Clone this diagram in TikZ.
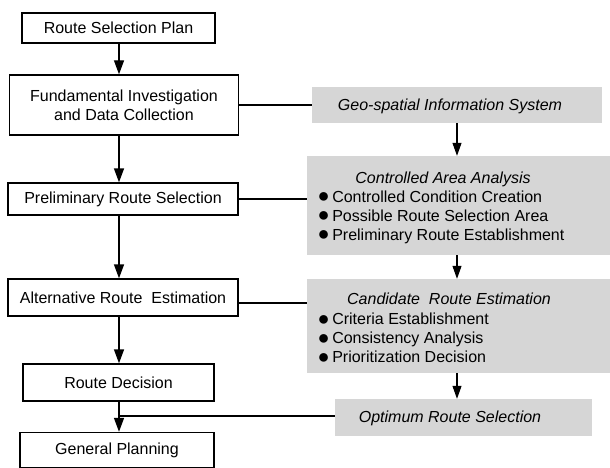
\documentclass[tikz,border=0pt]{standalone}
\usepackage{fontspec}
\setmainfont{Liberation Sans}
\usetikzlibrary{arrows.meta}
\newcommand{\blt}{\raisebox{-0.5pt}{\scalebox{1.25}{●}}\,}
\begin{document}
\begin{tikzpicture}[x=1pt,y=-1pt,
  txt/.style={font=\fontsize{16}{19}\selectfont},
  ittxt/.style={font=\fontsize{16}{19}\selectfont\itshape},
  stepbox/.style={txt,draw,line width=1.4pt,inner sep=0pt,align=center},
  panel/.style={fill=black!16,inner sep=0pt},
  link/.style={line width=1.4pt},
  arr/.style={line width=1.4pt,-{Triangle[length=14pt,width=10pt]}},
  thinarr/.style={line width=1.1pt,-{Triangle[length=13pt,width=9pt]}}]
\useasboundingbox (0,0) rectangle (610,468);

% main process column
\coordinate (spine) at (119,0);
\node[stepbox,minimum width=193pt,minimum height=30pt] (plan) at (118.5,28) {Route Selection Plan};
\node[stepbox,minimum width=229pt,minimum height=60pt] (survey) at (124,105) {Fundamental Investigation\\and Data Collection};
\node[stepbox,minimum width=230pt,minimum height=32pt] (prelim) at (123,199) {Preliminary Route Selection};
\node[stepbox,minimum width=230pt,minimum height=37pt] (altern) at (123,297.5) {Alternative Route\ \ Estimation};
\node[stepbox,minimum width=191pt,minimum height=37pt] (decide) at (118.5,382.5) {Route Decision};
\node[stepbox,minimum width=194pt,minimum height=35pt] (general) at (117,450) {General Planning};

% supporting analysis column
\node[panel,minimum width=290pt,minimum height=36pt] (gis) at (457,105) {};
\node[ittxt] (gistitle) at (450,106) {Geo-spatial Information System};

\node[panel,minimum width=303pt,minimum height=99pt] (area) at (458.5,205.5) {};
\node[ittxt] (areatitle) at (443,179) {Controlled Area Analysis};
\node[txt,anchor=west,align=left] (arealist) at (314,217)
  {\blt Controlled Condition Creation\\\blt Possible Route Selection Area\\\blt Preliminary Route Establishment};

\node[panel,minimum width=303pt,minimum height=94pt] (cand) at (458.5,326) {};
\node[ittxt] (candtitle) at (449,299) {Candidate\ \ Route Estimation};
\node[txt,anchor=west,align=left] (candlist) at (314,338)
  {\blt Criteria Establishment\\\blt Consistency Analysis\\\blt Prioritization Decision};

\node[panel,minimum width=257pt,minimum height=37pt] (optim) at (463.5,417.5) {};
\node[ittxt] (optimtitle) at (450,418) {Optimum Route Selection};

% flow of the main column
\draw[arr] (plan.south -| spine) -- (survey.north -| spine);
\draw[arr] (survey.south -| spine) -- (prelim.north -| spine);
\draw[arr] (prelim.south -| spine) -- (altern.north -| spine);
\draw[arr] (altern.south -| spine) -- (decide.north -| spine);
\draw[arr] (decide.south -| spine) -- (general.north -| spine);

% links to the analysis column
\draw[link] (survey.east) -- (gis.west);
\draw[link] (prelim.east) -- (prelim.east -| area.west);
\draw[link] (altern.east |- 0,303) -- (area.west |- 0,303);
\coordinate (branch) at (119,416);
\draw[link] (branch) -- (branch -| optim.west);

% flow of the analysis column
\coordinate (rspine) at (457,0);
\draw[thinarr] (gis.south -| rspine) -- (area.north -| rspine);
\draw[thinarr] (area.south -| rspine) -- (cand.north -| rspine);
\draw[thinarr] (cand.south -| rspine) -- (optim.north -| rspine);
\end{tikzpicture}
\end{document}
